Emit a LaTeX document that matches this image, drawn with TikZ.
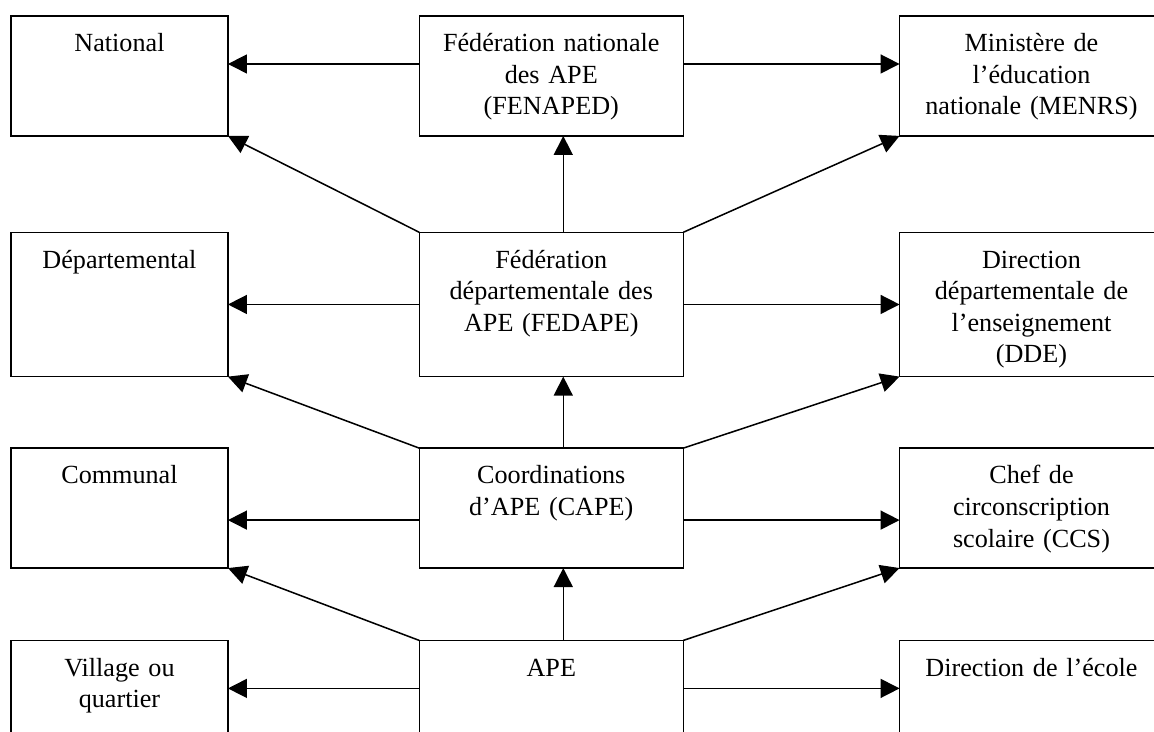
\documentclass[tikz,border=0pt]{standalone}
\usepackage{fontspec}
\setmainfont{Liberation Serif}
\usetikzlibrary{arrows.meta, positioning}

\begin{document}
\begin{tikzpicture}[
  box/.style={draw, line width=0.7pt, outer sep=0pt, inner sep=0pt},
  colL/.style={minimum width=99.5pt},
  colM/.style={minimum width=121.1pt},
  colR/.style={minimum width=121pt},
  rowA/.style={minimum height=55pt},
  rowB/.style={minimum height=66.2pt},
  txt/.style={anchor=base, align=center, text width=118pt, inner sep=0pt, font=\fontsize{12pt}{14.5pt}\selectfont},
  arr/.style={-{Triangle[length=8.7pt, width=8.7pt]}, line width=0.7pt}
]
\useasboundingbox (0,0) rectangle (529.3pt,-335.3pt);
\clip (0,0) rectangle (529.3pt,-335.3pt);

% left column: levels
\node (nat) [box, colL, rowA, anchor=north west] at (5.05pt,-7.34pt) {};
\node (dep) [box, colL, rowB, below=44.2pt of nat] {};
\node (com) [box, colL, rowA, below=32.8pt of dep] {};
\node (vil) [box, colL, rowA, below=33.2pt of com] {};

% middle column: parents' associations
\node (fenaped) [box, colM, rowA, right=87.75pt of nat] {};
\node (fedape) [box, colM, rowB, right=87.75pt of dep] {};
\node (cape) [box, colM, rowA, right=87.75pt of com] {};
\node (ape) [box, colM, rowA, right=87.75pt of vil] {};

% right column: administration
\node (menrs) [box, colR, rowA, right=99.2pt of fenaped] {};
\node (dde) [box, colR, rowB, right=99.2pt of fedape] {};
\node (ccs) [box, colR, rowA, right=99.2pt of cape] {};
\node (dir) [box, colR, rowA, right=99.2pt of ape] {};

% texts
\node (nat-t) [txt] at ([yshift=-16.4pt]nat.north) {National};
\node (dep-t) [txt] at ([yshift=-16.4pt]dep.north) {Départemental};
\node (com-t) [txt] at ([yshift=-16.4pt]com.north) {Communal};
\node (vil-t) [txt] at ([yshift=-16.4pt]vil.north) {Village ou\\quartier};
\node (fenaped-t) [txt] at ([yshift=-16.4pt]fenaped.north) {Fédération nationale\\des APE\\(FENAPED)};
\node (fedape-t) [txt] at ([yshift=-16.4pt]fedape.north) {Fédération\\départementale des\\APE (FEDAPE)};
\node (cape-t) [txt] at ([yshift=-16.4pt]cape.north) {Coordinations\\d’APE (CAPE)};
\node (ape-t) [txt] at ([yshift=-16.4pt]ape.north) {APE};
\node (menrs-t) [txt] at ([yshift=-16.4pt]menrs.north) {Ministère de\\l’éducation\\nationale (MENRS)};
\node (dde-t) [txt] at ([yshift=-16.4pt]dde.north) {Direction\\départementale de\\l’enseignement\\(DDE)};
\node (ccs-t) [txt] at ([yshift=-16.4pt]ccs.north) {Chef de\\circonscription\\scolaire (CCS)};
\node (dir-t) [txt] at ([yshift=-16.4pt]dir.north) {Direction de l’école};

% horizontal arrows
\draw[arr] ([yshift=5.5pt]fenaped.west) -- ([yshift=5.5pt]nat.east);
\draw[arr] ([yshift=5.5pt]fenaped.east) -- ([yshift=5.5pt]menrs.west);
\draw[arr] (fedape.west) -- (dep.east);
\draw[arr] (fedape.east) -- (dde.west);
\draw[arr] ([yshift=-5.5pt]cape.west) -- ([yshift=-5.5pt]com.east);
\draw[arr] ([yshift=-5.5pt]cape.east) -- ([yshift=-5.5pt]ccs.west);
\draw[arr] ([yshift=5.5pt]ape.west) -- ([yshift=5.5pt]vil.east);
\draw[arr] ([yshift=5.5pt]ape.east) -- ([yshift=5.5pt]dir.west);

% vertical arrows
\draw[arr] ([xshift=5.5pt]fedape.north) -- ([xshift=5.5pt]fenaped.south);
\draw[arr] ([xshift=5.5pt]cape.north) -- ([xshift=5.5pt]fedape.south);
\draw[arr] ([xshift=5.5pt]ape.north) -- ([xshift=5.5pt]cape.south);

% diagonal arrows
\draw[arr] (fedape.north west) -- (nat.south east);
\draw[arr] (fedape.north east) -- (menrs.south west);
\draw[arr] (cape.north west) -- (dep.south east);
\draw[arr] (cape.north east) -- (dde.south west);
\draw[arr] (ape.north west) -- (com.south east);
\draw[arr] (ape.north east) -- (ccs.south west);
\end{tikzpicture}
\end{document}
